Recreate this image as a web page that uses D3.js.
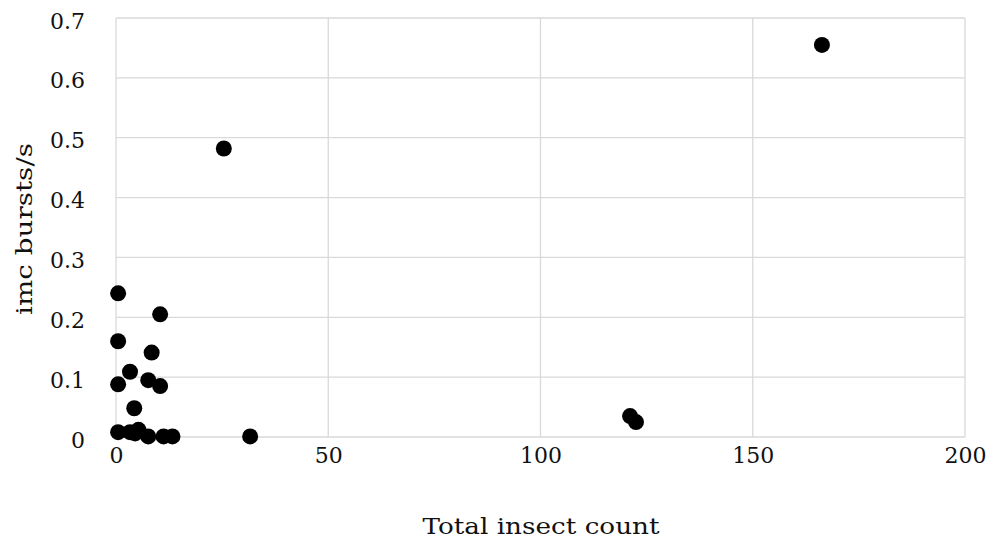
<!DOCTYPE html>
<html>
<head>
<meta charset="utf-8">
<script src="https://cdn.jsdelivr.net/npm/d3@7"></script>
<style>
  body { margin: 0; background: #fff; }
  text { font-family: "DejaVu Serif", "Liberation Serif", serif; fill: #111; }
</style>
</head>
<body>
<script>
// scatter of imc bursts per second against total insect count

var insectCount = [0.5, 10.4, 0.5, 8.4, 3.3, 0.5, 7.6, 10.4, 4.3, 0.5, 3.3, 5.3, 4.5, 7.6,
                   11.2, 13.3, 31.6, 25.4, 166.3, 121.1, 122.5];
var burstsPerSec = [0.24, 0.205, 0.16, 0.141, 0.109, 0.088, 0.095, 0.085, 0.048, 0.008, 0.008,
                    0.012, 0.006, 0.001, 0.001, 0.001, 0.001, 0.482, 0.655, 0.035, 0.025];
var xTicks = [0, 50, 100, 150, 200];
var yTicks = [0, 0.1, 0.2, 0.3, 0.4, 0.5, 0.6, 0.7];

var width = 996,
    height = 542;
var margin = {top: 18, right: 31, bottom: 105, left: 116};

var svg = d3.select("body")
            .append("svg")
            .attr("width", width)
            .attr("height", height);

var x = d3.scaleLinear()
          .domain([0, 200])
          .range([margin.left, width - margin.right]);

var y = d3.scaleLinear()
          .domain([0, 0.7])
          .range([height - margin.bottom, margin.top]);

// gridlines
svg.append("g")
    .attr("class", "grid")
  .selectAll("line.h")
    .data(yTicks)
  .enter().append("line")
    .attr("x1", x(0))
    .attr("x2", x(200))
    .attr("y1", function(d) { return y(d); })
    .attr("y2", function(d) { return y(d); })
    .style("stroke", "#d9d9d9")
    .style("stroke-width", 1.3);

svg.append("g")
    .attr("class", "grid")
  .selectAll("line.v")
    .data(xTicks)
  .enter().append("line")
    .attr("x1", function(d) { return x(d); })
    .attr("x2", function(d) { return x(d); })
    .attr("y1", y(0))
    .attr("y2", y(0.7))
    .style("stroke", "#d9d9d9")
    .style("stroke-width", 1.3);

// axes, text only
var xAxis = svg.append("g")
    .attr("transform", "translate(0," + (y(0) + 6) + ")")
    .call(d3.axisBottom(x).tickValues(xTicks).tickSize(0).tickPadding(0)
      .tickFormat(d3.format("d")));

var yAxis = svg.append("g")
    .attr("transform", "translate(" + (x(0) - 31) + ",3)")
    .call(d3.axisLeft(y).tickValues(yTicks).tickSize(0).tickPadding(0)
      .tickFormat(function(d) { return d === 0 ? "0" : d3.format(".1f")(d); }));

svg.selectAll(".domain").remove();
svg.selectAll(".tick text")
    .style("font-family", "'DejaVu Serif', serif")
    .style("font-size", "22px")
    .style("fill", "#111");
xAxis.selectAll(".tick text").attr("dy", "0.9em");

// axis titles
svg.append("text")
    .attr("x", 541)
    .attr("y", 534)
    .attr("text-anchor", "middle")
    .attr("textLength", 237)
    .attr("lengthAdjust", "spacingAndGlyphs")
    .style("font-size", "23px")
    .text("Total insect count");

svg.append("text")
    .attr("transform", "translate(32,229) rotate(-90)")
    .attr("text-anchor", "middle")
    .attr("textLength", 172)
    .attr("lengthAdjust", "spacingAndGlyphs")
    .style("font-size", "23px")
    .text("imc bursts/s");

// points
svg.append("g")
    .attr("class", "points")
  .selectAll("circle")
    .data(insectCount)
  .enter().append("circle")
    .attr("cx", function(d) { return x(d); })
    .attr("cy", function(d, i) { return y(burstsPerSec[i]); })
    .attr("r", 8)
    .style("fill", "#000");
</script>
</body>
</html>
